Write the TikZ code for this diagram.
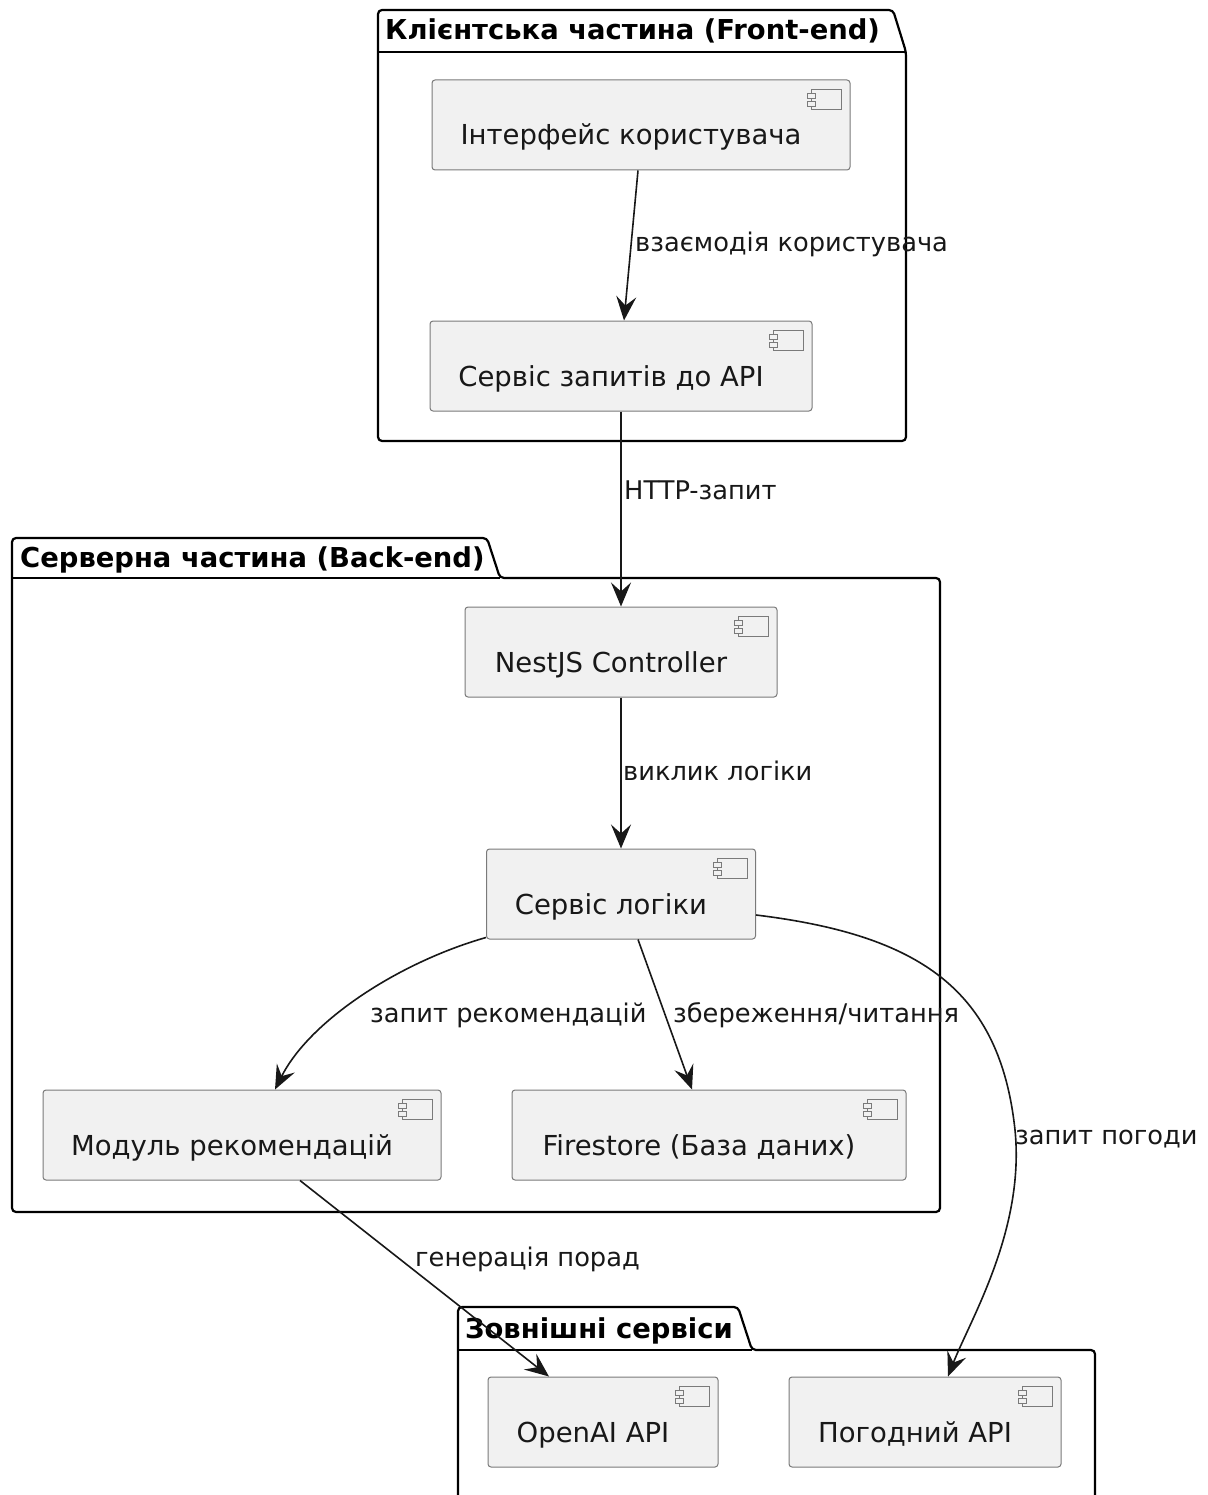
\documentclass[tikz,border=0pt]{standalone}
\usepackage{fontspec}
\setmainfont{DejaVu Sans}
\usetikzlibrary{arrows.meta}
\definecolor{compfill}{HTML}{F1F1F1}
\definecolor{compline}{HTML}{7A7A7A}
\definecolor{ink}{HTML}{181818}
\tikzset{
  comp/.style={draw=compline, line width=1pt, fill=compfill, rounded corners=3pt,
    inner sep=0pt, anchor=center},
  ctext/.style={inner sep=0pt, anchor=base, text=ink, font=\fontsize{27.5}{32}\selectfont},
  lbl/.style={inner sep=0pt, anchor=base west, text=ink, font=\fontsize{25.7}{30}\selectfont},
  ptitle/.style={inner sep=0pt, anchor=base west, text=black, font=\bfseries\fontsize{27.4}{32}\selectfont},
  pkg/.style={draw=black, line width=2.2pt, rounded corners=4pt},
  conn/.style={draw=ink, line width=1.6pt, -{Stealth[length=24pt,width=20pt,inset=9pt]}},
  icon/.style={draw=compline, line width=1pt, fill=compfill}
}
\newcommand{\compicon}[1]{%
  \draw[icon] ([xshift=-39pt,yshift=-10pt]#1.north east) rectangle ([xshift=-9pt,yshift=-30pt]#1.north east);
  \draw[icon] ([xshift=-43pt,yshift=-14pt]#1.north east) rectangle ([xshift=-35pt,yshift=-19pt]#1.north east);
  \draw[icon] ([xshift=-43pt,yshift=-22pt]#1.north east) rectangle ([xshift=-35pt,yshift=-27pt]#1.north east);
}
\begin{document}
\begin{tikzpicture}[x=1pt,y=-1pt]
\useasboundingbox (0,0) rectangle (1207,1495);
\fill[white] (0,0) rectangle (1207,1495);
\clip (0,0) rectangle (1207,1495);

% Packages
\draw[pkg] (378,441) -- (378,10) -- (893,10) -- (906,52) -- (906,441) -- cycle;
\draw[line width=2.2pt] (378,52) -- (906,52);
\node[ptitle] (p1) at (385,40) {Клієнтська частина (Front-end)};

\draw[pkg] (12,1212) -- (12,538) -- (487,538) -- (500,578) -- (940,578) -- (940,1212) -- cycle;
\draw[line width=2.2pt] (12,578) -- (500,578);
\node[ptitle] (p2) at (20,567) {Серверна частина (Back-end)};

\draw[pkg] (458,1520) -- (458,1307) -- (738,1307) -- (752,1350) -- (1095,1350) -- (1095,1520) -- cycle;
\draw[line width=2.2pt] (458,1350) -- (752,1350);
\node[ptitle] (p3) at (465,1338) {Зовнішні сервіси};

% Components
\node[comp, minimum width=418pt, minimum height=90pt] (ui) at (641,125) {};
\node[comp, minimum width=382pt, minimum height=90pt] (api) at (621,366) {};
\node[comp, minimum width=312pt, minimum height=90pt] (nest) at (621,652) {};
\node[comp, minimum width=269pt, minimum height=90pt] (logic) at (621,894) {};
\node[comp, minimum width=398pt, minimum height=90pt] (rec) at (242,1135) {};
\node[comp, minimum width=394pt, minimum height=90pt] (fs) at (709,1135) {};
\node[comp, minimum width=230pt, minimum height=90pt] (openai) at (603,1422) {};
\node[comp, minimum width=272pt, minimum height=90pt] (weather) at (925,1422) {};

\foreach \n in {ui,api,nest,logic,rec,fs,openai,weather}{\compicon{\n}}

\node[ctext] (uit) at ([shift={(-10,20)}]ui.center) {Інтерфейс користувача};
\node[ctext] (apit) at ([shift={(-10,20)}]api.center) {Сервіс запитів до API};
\node[ctext] (nestt) at ([shift={(-10,20)}]nest.center) {NestJS Controller};
\node[ctext] (logict) at ([shift={(-10,20)}]logic.center) {Сервіс логіки};
\node[ctext] (rect) at ([shift={(-10,20)}]rec.center) {Модуль рекомендацій};
\node[ctext] (fst) at ([shift={(-10,20)}]fs.center) {Firestore (База даних)};
\node[ctext] (openait) at ([shift={(-10,20)}]openai.center) {OpenAI API};
\node[ctext] (weathert) at ([shift={(-10,20)}]weather.center) {Погодний API};

% Connectors
\draw[conn] ([xshift=-3pt]ui.south) -- ([xshift=3pt]api.north);
\draw[conn] (api.south) -- (nest.north);
\draw[conn] (nest.south) -- (logic.north);
\draw[conn] ([yshift=2pt]logic.south west) .. controls (400,962) and (310,1020) .. ([xshift=33pt]rec.north);
\draw[conn] ([xshift=17pt]logic.south) -- ([xshift=-17pt]fs.north);
\draw[conn] ([yshift=-21pt]logic.east) .. controls (920,935) and (1000,990) .. (1015,1130)
   .. controls (1025,1230) and (970,1320) .. ([xshift=23pt]weather.north);
\draw[conn] ([xshift=58pt]rec.south) -- ([xshift=-54pt]openai.north);

% Labels
\node[lbl] (l1) at (635,252) {взаємодія користувача};
\node[lbl] (l2) at (624,499) {HTTP-запит};
\node[lbl] (l3) at (623,780) {виклик логіки};
\node[lbl] (l4) at (370,1022) {запит рекомендацій};
\node[lbl] (l5) at (673,1022) {збереження/читання};
\node[lbl] (l6) at (1015,1144) {запит погоди};
\node[lbl] (l7) at (415,1266) {генерація порад};
\end{tikzpicture}
\end{document}
